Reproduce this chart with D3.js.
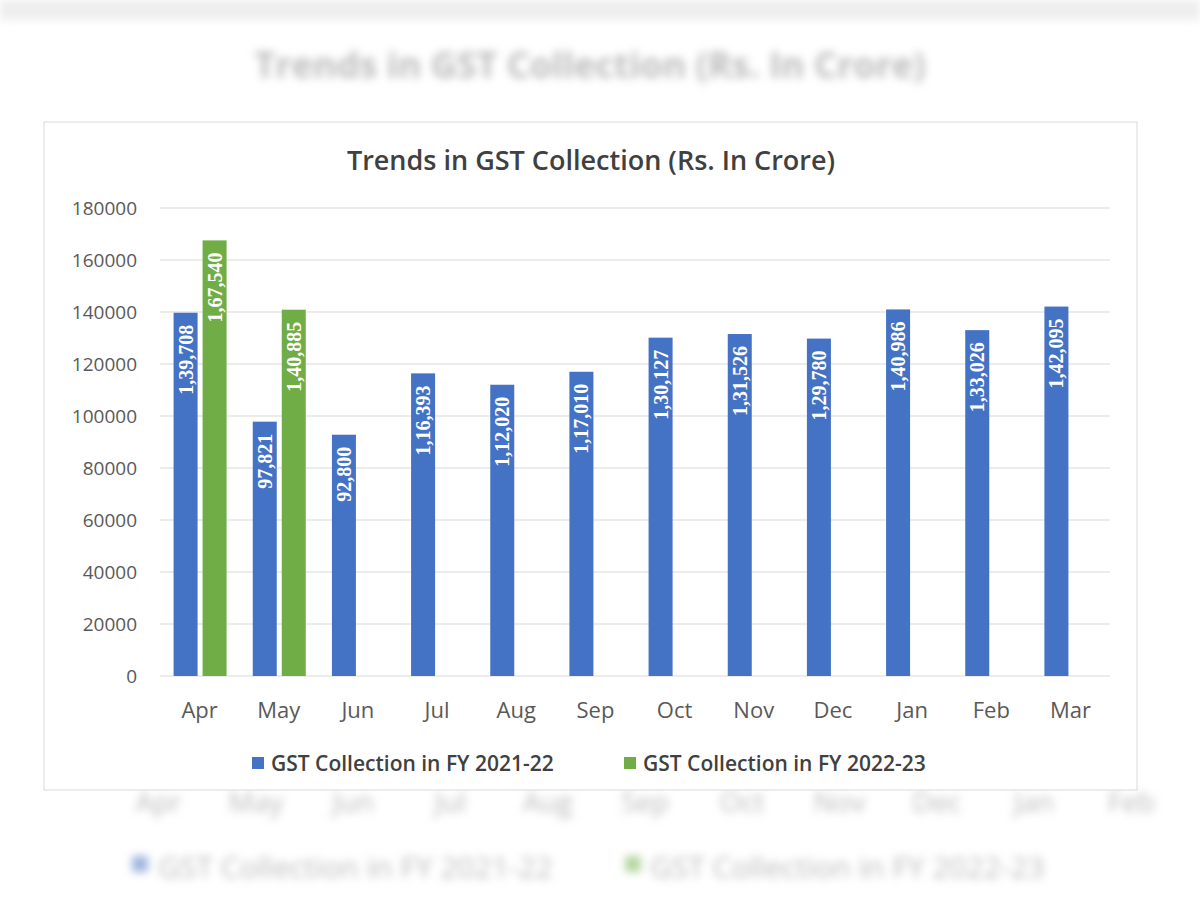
<!DOCTYPE html>
<html><head><meta charset="utf-8">
<script src="https://cdn.jsdelivr.net/npm/d3@7"></script>
<style>body{margin:0;background:#fff}svg{display:block}</style>
</head><body><svg id="c" width="1200" height="900"></svg>
<script>
const months=["Apr","May","Jun","Jul","Aug","Sep","Oct","Nov","Dec","Jan","Feb","Mar"];
const fy2122=[139708,97821,92800,116393,112020,117010,130127,131526,129780,140986,133026,142095];
const fy2223=[167540,140885,null,null,null,null,null,null,null,null,null,null];
const yTicks=[0,20000,40000,60000,80000,100000,120000,140000,160000,180000];
const seriesNames=["GST Collection in FY 2021-22","GST Collection in FY 2022-23"];
const colors=["#4472C4","#70AD47"];
const title="Trends in GST Collection (Rs. In Crore)";

const svg=d3.select("#c");
const defs=svg.append("defs");
defs.append("filter").attr("id","blur").append("feGaussianBlur").attr("stdDeviation",4);
const indian=v=>{const s=String(v);const last3=s.slice(-3),rest=s.slice(0,-3);return rest?rest.replace(/\B(?=(\d{2})+(?!\d))/g,",")+","+last3:last3;};

// blurred background
const bg=svg.append("g").attr("filter","url(#blur)").attr("fill","#bbb").attr("font-family","Open Sans, sans-serif");
bg.append("rect").attr("x",0).attr("y",0).attr("width",1200).attr("height",20).attr("fill","#eee");
bg.append("text").attr("x",590).attr("y",78).attr("text-anchor","middle").attr("font-size",36).attr("font-weight","bold").text(title);
const xb=d3.scaleBand().domain(months.slice(0,11)).range([110,1180]);
bg.selectAll(".bm").data(months.slice(0,11)).join("text").attr("x",d=>xb(d)+xb.bandwidth()/2).attr("y",812).attr("text-anchor","middle").attr("font-size",28).text(d=>d);
bg.append("rect").attr("x",132).attr("y",856).attr("width",16).attr("height",16).attr("fill","#9fb5e0");
bg.append("text").attr("x",158).attr("y",878).attr("font-size",30).text(seriesNames[0]);
bg.append("rect").attr("x",625).attr("y",856).attr("width",16).attr("height",16).attr("fill","#b5d6a0");
bg.append("text").attr("x",650).attr("y",878).attr("font-size",30).text(seriesNames[1]);

// chart frame
svg.append("rect").attr("x",44).attr("y",122).attr("width",1093).attr("height",668).attr("fill","#fff").attr("stroke","#d9d9d9");
svg.append("text").attr("x",591).attr("y",170).attr("text-anchor","middle").attr("font-family","Open Sans, sans-serif").attr("font-size",27).attr("font-weight",600).attr("fill","#404040").text(title);

const x=d3.scaleBand().domain(months).range([160,1110]);
const y=d3.scaleLinear().domain([0,180000]).range([676,208]);
const g=svg.append("g");
g.selectAll(".grid").data(yTicks).join("line").attr("x1",160).attr("x2",1110).attr("y1",d=>y(d)).attr("y2",d=>y(d)).attr("stroke","#d9d9d9");
const ya=g.append("g").attr("transform","translate(140,0)").call(d3.axisLeft(y).tickValues(yTicks).tickSize(0).tickFormat(d=>d));
ya.select(".domain").remove();
ya.selectAll("text").attr("font-family","Open Sans, sans-serif").attr("font-size",19).attr("fill","#595959");
const xa=g.append("g").attr("transform","translate(0,676)").call(d3.axisBottom(x).tickSize(0).tickPadding(26));
xa.select(".domain").remove();
xa.selectAll("text").attr("font-family","Open Sans, sans-serif").attr("font-size",22).attr("fill","#595959");

const bw=24;
[fy2122,fy2223].forEach((vals,si)=>{
  const data=months.map((m,i)=>({m,v:vals[i]})).filter(d=>d.v!=null);
  const off=x.bandwidth()/2-26+si*29;
  g.selectAll(".b"+si).data(data).join("rect").attr("x",d=>x(d.m)+off).attr("y",d=>y(d.v)).attr("width",bw).attr("height",d=>676-y(d.v)).attr("fill",colors[si]);
  g.selectAll(".l"+si).data(data).join("text")
    .attr("transform",d=>`translate(${x(d.m)+off+bw/2+7},${y(d.v)+12}) rotate(-90)`)
    .attr("text-anchor","end").attr("font-family","Liberation Serif, serif").attr("font-weight","bold").attr("font-size",20).attr("fill","#fff").text(d=>indian(d.v));
});

const lg=svg.append("g").attr("font-family","Open Sans, sans-serif").attr("font-size",21).attr("font-weight",600).attr("fill","#404040");
[[252,0],[624,1]].forEach(([lx,i])=>{
  lg.append("rect").attr("x",lx).attr("y",757).attr("width",12).attr("height",12).attr("fill",colors[i]);
  lg.append("text").attr("x",lx+19).attr("y",771).text(seriesNames[i]);
});
</script></body></html>
